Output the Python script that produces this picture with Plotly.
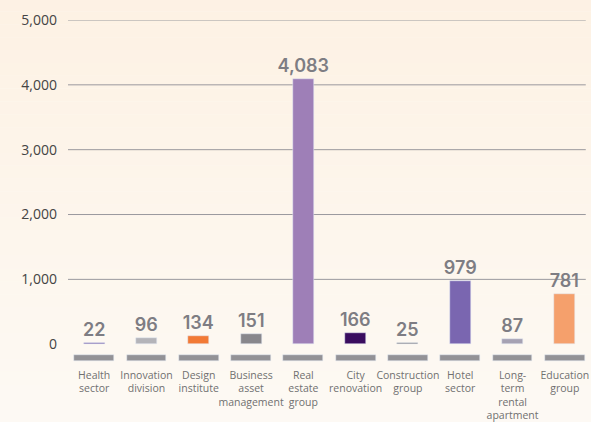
import plotly.graph_objects as go

categories = ["Health sector", "Innovation division", "Design institute",
              "Business asset management", "Real estate group", "City renovation",
              "Construction group", "Hotel sector", "Long-term rental apartment",
              "Education group"]
tick_labels = ["Health<br>sector", "Innovation<br>division", "Design<br>institute",
               "Business<br>asset<br>management", "Real<br>estate<br>group",
               "City<br>renovation", "Construction<br>group", "Hotel<br>sector",
               "Long-<br>term<br>rental<br>apartment", "Education<br>group"]
values = [22, 96, 134, 151, 4083, 166, 25, 979, 87, 781]
colors = ["#4a2f8e", "#b4b4b9", "#f27a35", "#88878c", "#9e7fb7", "#3a0d5f",
          "#55545a", "#7a66b0", "#a6a2b3", "#f5a06c"]
y_ticks = [0, 1000, 2000, 3000, 4000, 5000]
base_low = -260
base_height = 92

fig = go.Figure()

# gradient background
n = 40
top = (253, 241, 227)
bot = (253, 251, 247)
for i in range(n):
    t = i / (n - 1)
    c = tuple(round(top[k] + (bot[k] - top[k]) * t) for k in range(3))
    fig.add_shape(type="rect", xref="paper", yref="paper",
                  x0=-0.2, x1=1.2, y0=1.1 - (i + 1) * 1.5 / n, y1=1.1 - i * 1.5 / n,
                  fillcolor="rgb(%d,%d,%d)" % c, line_width=0, layer="below")

# gray base blocks
fig.add_trace(go.Bar(x=categories, y=[base_height] * len(categories), base=[base_low] * len(categories),
                     marker_color="#939296", width=0.76, hoverinfo="skip", showlegend=False))

fig.add_trace(go.Bar(x=categories, y=values, marker_color=colors, width=0.4,
                     text=[f"{v:,}" for v in values], textposition="outside",
                     constraintext="none",
                     textfont=dict(family="Inter", size=18, color="#7e7d83", weight=600),
                     cliponaxis=False, showlegend=False))

for v in y_ticks:
    if v > 0:
        fig.add_shape(type="line", xref="paper", yref="y", x0=0, x1=0.99, y0=v, y1=v,
                      line=dict(color="#9a999e", width=1), layer="below")

fig.update_layout(
    width=591, height=422,
    margin=dict(l=68, r=0, t=20, b=57),
    paper_bgcolor="#fdf8f1", plot_bgcolor="rgba(0,0,0,0)",
    barmode="overlay", bargap=0,
    font=dict(family="Open Sans"),
)
fig.update_xaxes(tickvals=categories, ticktext=tick_labels, showgrid=False, tickangle=0,
                 tickfont=dict(size=10.5, color="#707070"), ticks="", showline=False,
                 ticklabelstandoff=4)
fig.update_yaxes(range=[-290, 5000], tickvals=y_ticks, tickformat=",", showgrid=False,
                 zeroline=False, tickfont=dict(size=14, color="#444"), ticklabelstandoff=10)

fig.write_html("out.html", config={"displayModeBar": False},
               post_script="document.body.style.margin='0';document.body.style.overflow='hidden';")
